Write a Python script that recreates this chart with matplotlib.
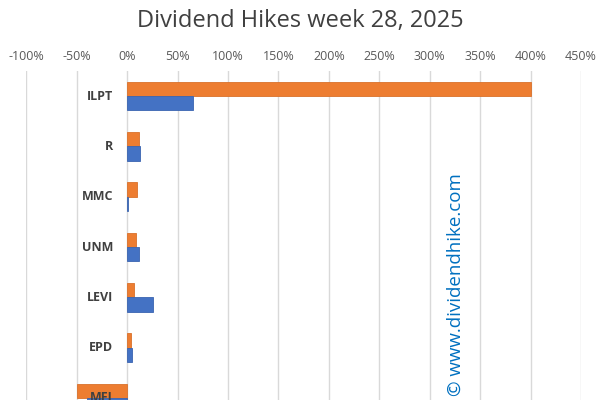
import matplotlib
matplotlib.use("Agg")
import matplotlib.pyplot as plt
from matplotlib.ticker import FuncFormatter

# dados
tickers = ["ILPT", "R", "MMC", "UNM", "LEVI", "EPD", "MFI"]
aumento = [400, 12, 10, 9, 7, 3.5, -50]        # laranja
crescimento = [65, 12.5, 0.5, 12, 25.5, 4.5, -40]  # azul
x_ticks = [-100, -50, 0, 50, 100, 150, 200, 250, 300, 350, 400, 450]

LARANJA = "#ED7D31"
AZUL = "#4472C4"
CINZA = "#595959"

plt.rcParams['font.family'] = ['Open Sans', 'DejaVu Sans']

fig = plt.figure(figsize=(6, 4), dpi=100)
# eixo começa em y=71px, 50.3px por categoria, cortado embaixo
topo = 71 / 400
altura = 7 * 50.3 / 400
ax = fig.add_axes([26.3 / 600, 1 - topo - altura, (581 - 26.3) / 600, altura])

pos = list(range(len(tickers)))
h = 0.285
ax.barh([p - h / 2 for p in pos], aumento, height=h, color=LARANJA,
        edgecolor="#D9712B", linewidth=0.6, zorder=3)
ax.barh([p + h / 2 for p in pos], crescimento, height=h, color=AZUL,
        edgecolor="#3A64B0", linewidth=0.6, zorder=3)

ax.set_xlim(-100, 450)
ax.set_ylim(len(tickers) - 0.5, -0.5)
ax.set_xticks(x_ticks)
ax.xaxis.set_major_formatter(FuncFormatter(lambda v, p: f"{v:.0f}%"))
ax.xaxis.tick_top()
ax.tick_params(axis="x", length=0, pad=5.5, labelsize=9, labelcolor=CINZA)
ax.grid(axis="x", color="#D9D9D9", linewidth=1, zorder=0)
for s in ax.spines.values():
    s.set_visible(False)

ax.set_yticks([])
for p, t in zip(pos, tickers):
    ax.text(-14, p, t, ha="right", va="center", fontsize=9,
            fontweight="bold", color="#404040")

fig.text(0.5, 1 - 21 / 400, "Dividend Hikes week 28, 2025", ha="center", va="center",
         fontsize=17, color="#404040")
fig.text(456 / 600, 1 - 285 / 400, "© www.dividendhike.com", rotation=90,
         ha="center", va="center", fontsize=13.5, color="#0070C0")

fig.savefig("out.png", dpi=100)
